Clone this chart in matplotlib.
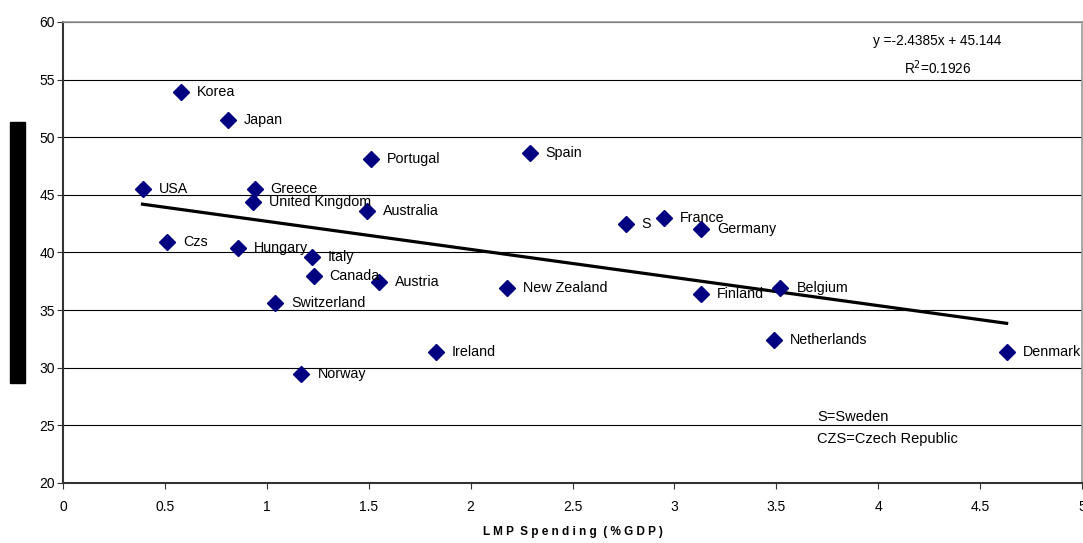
import matplotlib.pyplot as plt
import numpy as np

plt.rcParams['font.family'] = ['Liberation Sans', 'DejaVu Sans']

countries = ['Korea', 'Japan', 'USA', 'Greece', 'United Kingdom', 'Portugal', 'Spain',
             'Australia', 'S', 'France', 'Germany', 'Czs', 'Hungary', 'Italy', 'Canada',
             'Austria', 'Switzerland', 'New Zealand', 'Finland', 'Belgium', 'Netherlands',
             'Ireland', 'Norway', 'Denmark']
lmp = [0.58, 0.81, 0.39, 0.94, 0.93, 1.51, 2.29, 1.49, 2.76, 2.95, 3.13, 0.51, 0.86,
       1.22, 1.23, 1.55, 1.04, 2.18, 3.13, 3.52, 3.49, 1.83, 1.17, 4.63]
yvals = [53.9, 51.5, 45.5, 45.5, 44.4, 48.1, 48.6, 43.6, 42.5, 43.0, 42.0, 40.9, 40.4,
         39.6, 38.0, 37.4, 35.6, 36.9, 36.4, 36.9, 32.4, 31.4, 29.5, 31.4]
slope = -2.4385
intercept = 45.144

fig = plt.figure(figsize=(10.83, 5.43), dpi=100)
ax = fig.add_axes([0.0582, 0.1105, 0.9409, 0.849])

for yv in range(25, 61, 5):
    ax.axhline(yv, color='black', lw=0.8, zorder=0)

ax.plot(lmp, yvals, 'D', color='#000080', markersize=8, zorder=3)
for name, xv, yv in zip(countries, lmp, yvals):
    ax.annotate(name, (xv, yv), xytext=(11.5, 0), textcoords='offset points',
                va='center', ha='left', fontsize=10.3, zorder=4)

xl = np.array([min(lmp), max(lmp)])
ax.plot(xl, slope * xl + intercept, color='black', lw=2.3, zorder=2)

ax.text(0.858, 0.958, 'y =-2.4385x + 45.144', transform=ax.transAxes,
        ha='center', va='center', fontsize=9.8)
ax.text(0.858, 0.9, 'R$^2$=0.1926', transform=ax.transAxes,
        ha='center', va='center', fontsize=9.8)
ax.text(3.7, 25.7, 'S=Sweden', fontsize=10.5, va='center')
ax.text(3.7, 23.8, 'CZS=Czech Republic', fontsize=10.5, va='center')

ax.set_xlim(0, 5)
ax.set_ylim(20, 60)
ax.set_xticks([0, 0.5, 1, 1.5, 2, 2.5, 3, 3.5, 4, 4.5, 5])
ax.set_xticklabels(['0', '0.5', '1', '1.5', '2', '2.5', '3', '3.5', '4', '4.5', '5'])
ax.set_yticks(range(20, 61, 5))
ax.tick_params(direction='out', length=4, labelsize=10, color='#333333')
ax.tick_params(axis='x', pad=8)
ax.tick_params(axis='y', pad=2)
for s in ['left', 'bottom']:
    ax.spines[s].set_color('#333333')
    ax.spines[s].set_linewidth(1.5)
for s in ['top', 'right']:
    ax.spines[s].set_color('#999999')
    ax.spines[s].set_linewidth(1.2)

ax.set_xlabel('L M P  S p e n d i n g  ( % G D P )', fontsize=8.5, fontweight='bold', labelpad=9)

fig.patches.append(plt.Rectangle((10 / 1083, 1 - 383 / 543), 15 / 1083, 261 / 543,
                                 transform=fig.transFigure, color='black'))

fig.savefig('out.png', dpi=100)
